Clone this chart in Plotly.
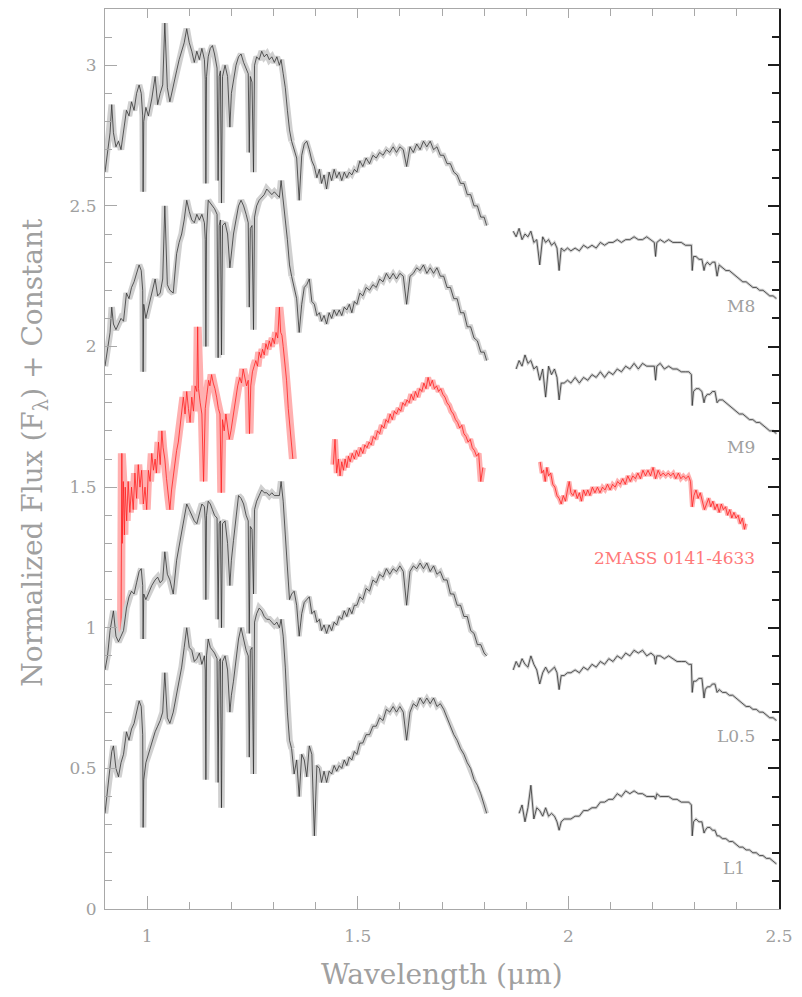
import plotly.graph_objects as go

# ---------------------------------------------------------------------------
# Wavelength grids (micron) shared by the four comparison spectra
# ---------------------------------------------------------------------------
JH_WAVE = [
    0.900, 0.906, 0.912, 0.916, 0.920, 0.926, 0.932, 0.938, 0.944, 0.951,
    0.957, 0.963, 0.969, 0.975, 0.981, 0.986, 0.9895, 0.9905, 0.992, 0.997,
    1.003, 1.011, 1.019, 1.025, 1.031, 1.037, 1.042, 1.048, 1.054, 1.062,
    1.070, 1.076, 1.082, 1.088, 1.094, 1.100, 1.106, 1.112, 1.118, 1.124,
    1.130, 1.136, 1.138, 1.1395, 1.141, 1.145, 1.150, 1.155, 1.160, 1.166,
    1.1685, 1.171, 1.174, 1.1765, 1.179, 1.185, 1.191, 1.1965, 1.200, 1.205,
    1.211, 1.217, 1.223, 1.229, 1.235, 1.240, 1.2425, 1.245, 1.249, 1.2525,
    1.255, 1.260, 1.266, 1.272, 1.278, 1.284, 1.290, 1.296, 1.302, 1.308,
    1.314, 1.318, 1.323, 1.328, 1.333, 1.338, 1.343, 1.349, 1.355, 1.361,
    1.367, 1.373, 1.379, 1.385, 1.391, 1.397, 1.403, 1.409, 1.414, 1.420,
    1.426, 1.432, 1.438, 1.444, 1.450, 1.456, 1.462, 1.468, 1.474, 1.480,
    1.486, 1.492, 1.498, 1.505, 1.512, 1.520, 1.528, 1.536, 1.544, 1.552,
    1.560, 1.568, 1.576, 1.584, 1.592, 1.600, 1.608, 1.616, 1.624, 1.632,
    1.640, 1.648, 1.656, 1.664, 1.672, 1.680, 1.688, 1.696, 1.704, 1.712,
    1.720, 1.728, 1.736, 1.744, 1.752, 1.760, 1.768, 1.776, 1.784, 1.792,
    1.800, 1.806,
]

K_WAVE = [
    1.869, 1.876, 1.883, 1.890, 1.897, 1.904, 1.911, 1.918, 1.925, 1.932,
    1.939, 1.946, 1.953, 1.960, 1.967, 1.973, 1.978, 1.983, 1.990, 1.998,
    2.006, 2.016, 2.026, 2.036, 2.046, 2.056, 2.066, 2.076, 2.086, 2.096,
    2.106, 2.116, 2.126, 2.136, 2.146, 2.156, 2.166, 2.176, 2.186, 2.196,
    2.204, 2.207, 2.210, 2.218, 2.228, 2.238, 2.248, 2.258, 2.268, 2.278,
    2.286, 2.292, 2.294, 2.297, 2.303, 2.310, 2.317, 2.322, 2.325, 2.330,
    2.336, 2.342, 2.348, 2.353, 2.358, 2.366, 2.374, 2.382, 2.390, 2.398,
    2.406, 2.414, 2.422, 2.430, 2.438, 2.446, 2.454, 2.462, 2.470, 2.478,
    2.486, 2.494,
]

# ---------------------------------------------------------------------------
# Normalized flux + offset for the comparison dwarfs
# ---------------------------------------------------------------------------
M8_JH = [
    2.62, 2.70, 2.76, 2.86, 2.76, 2.71, 2.73, 2.70, 2.77, 2.84,
    2.82, 2.87, 2.84, 2.90, 2.93, 2.90, 2.82, 2.55, 2.80, 2.85,
    2.82, 2.88, 2.96, 2.86, 2.90, 2.93, 3.15, 2.92, 2.87, 2.92,
    2.98, 3.02, 3.05, 3.08, 3.13, 3.08, 3.05, 3.01, 3.05, 3.02,
    3.06, 3.02, 2.95, 2.58, 2.96, 3.03, 3.06, 3.07, 3.04, 2.99,
    2.59, 2.96, 2.98, 2.51, 2.96, 3.00, 2.96, 2.78, 2.90, 2.95,
    3.00, 3.03, 3.04, 3.01, 2.99, 2.97, 2.69, 2.96, 2.94, 2.62,
    3.00, 3.03, 3.02, 3.05, 3.03, 3.04, 3.02, 3.03, 3.01, 3.03,
    3.00, 3.02, 2.97, 2.92, 2.84, 2.77, 2.73, 2.70, 2.67, 2.52,
    2.68, 2.72, 2.73, 2.70, 2.66, 2.64, 2.60, 2.63, 2.58, 2.61,
    2.56, 2.62, 2.59, 2.63, 2.60, 2.62, 2.59, 2.62, 2.60, 2.62,
    2.61, 2.63, 2.62, 2.66, 2.64, 2.67, 2.65, 2.68, 2.67, 2.69,
    2.68, 2.70, 2.69, 2.71, 2.69, 2.71, 2.70, 2.64, 2.71, 2.69,
    2.72, 2.70, 2.73, 2.71, 2.73, 2.70, 2.71, 2.68, 2.68, 2.65,
    2.65, 2.62, 2.61, 2.58, 2.58, 2.54, 2.54, 2.50, 2.50, 2.46,
    2.46, 2.43,
]
M8_K = [
    2.41, 2.39, 2.42, 2.38, 2.40, 2.39, 2.41, 2.37, 2.38, 2.29,
    2.39, 2.37, 2.38, 2.36, 2.37, 2.35, 2.27, 2.35, 2.34, 2.35,
    2.34, 2.35, 2.34, 2.36, 2.35, 2.36, 2.35, 2.37, 2.36, 2.37,
    2.37, 2.38, 2.37, 2.38, 2.38, 2.39, 2.38, 2.38, 2.39, 2.38,
    2.37, 2.32, 2.37, 2.38, 2.37, 2.38, 2.37, 2.37, 2.37, 2.36,
    2.36, 2.36, 2.27, 2.32, 2.32, 2.31, 2.31, 2.27, 2.29, 2.30,
    2.29, 2.30, 2.30, 2.25, 2.29, 2.28, 2.27, 2.27, 2.26, 2.25,
    2.24, 2.23, 2.23, 2.22, 2.21, 2.21, 2.20, 2.20, 2.19, 2.18,
    2.18, 2.17,
]

M9_JH = [
    1.93, 1.99, 2.05, 2.14, 2.08, 2.06, 2.08, 2.10, 2.09, 2.19,
    2.17, 2.21, 2.23, 2.26, 2.29, 2.27, 2.20, 1.91, 2.15, 2.10,
    2.14, 2.19, 2.24, 2.18, 2.19, 2.24, 2.50, 2.22, 2.20, 2.19,
    2.33, 2.37, 2.40, 2.45, 2.52, 2.48, 2.45, 2.44, 2.47, 2.45,
    2.47, 2.44, 2.38, 2.00, 2.40, 2.52, 2.51, 2.50, 2.49, 2.47,
    1.96, 2.43, 2.45, 1.97, 2.43, 2.44, 2.40, 2.28, 2.34, 2.40,
    2.45, 2.50, 2.52, 2.50, 2.47, 2.44, 2.14, 2.42, 2.43, 2.06,
    2.46, 2.50, 2.52, 2.53, 2.54, 2.56, 2.55, 2.54, 2.55, 2.54,
    2.53, 2.59, 2.52, 2.46, 2.38, 2.29, 2.25, 2.21, 2.17, 2.05,
    2.15, 2.21, 2.22, 2.24, 2.16, 2.15, 2.11, 2.12, 2.09, 2.11,
    2.08, 2.12, 2.10, 2.13, 2.11, 2.13, 2.11, 2.14, 2.13, 2.15,
    2.12, 2.16, 2.15, 2.19, 2.18, 2.21, 2.20, 2.22, 2.21, 2.24,
    2.23, 2.26, 2.24, 2.26, 2.24, 2.26, 2.25, 2.15, 2.25, 2.26,
    2.28, 2.27, 2.29, 2.26, 2.28, 2.26, 2.28, 2.25, 2.25, 2.21,
    2.21, 2.17, 2.17, 2.12, 2.12, 2.07, 2.07, 2.03, 2.02, 1.98,
    1.98, 1.95,
]
M9_K = [
    None, 1.92, 1.95, 1.93, 1.97, 1.94, 1.95, 1.92, 1.93, 1.88,
    1.92, 1.82, 1.93, 1.90, 1.92, 1.89, 1.81, 1.87, 1.87, 1.88,
    1.87, 1.89, 1.87, 1.89, 1.88, 1.90, 1.89, 1.91, 1.89, 1.91,
    1.90, 1.92, 1.91, 1.93, 1.92, 1.94, 1.92, 1.94, 1.93, 1.93,
    1.93, 1.88, 1.93, 1.94, 1.92, 1.93, 1.92, 1.92, 1.91, 1.91,
    1.91, 1.90, 1.79, 1.84, 1.85, 1.85, 1.84, 1.80, 1.82, 1.83,
    1.83, 1.84, 1.84, 1.80, 1.81, 1.81, 1.80, 1.79, 1.78, 1.77,
    1.76, 1.76, 1.75, 1.74, 1.74, 1.73, 1.73, 1.72, 1.71, 1.70,
    1.70, 1.69,
]

L05_JH = [
    0.85, 0.90, 0.99, 1.02, 1.06, 0.97, 0.95, 0.97, 0.99, 1.07,
    1.11, 1.13, 1.12, 1.16, 1.20, 1.21, 1.15, 0.96, 1.12, 1.10,
    1.12, 1.15, 1.17, 1.18, 1.16, 1.17, 1.27, 1.19, 1.17, 1.12,
    1.24, 1.29, 1.34, 1.38, 1.44, 1.42, 1.40, 1.38, 1.37, 1.41,
    1.44, 1.43, 1.38, 1.10, 1.40, 1.45, 1.44, 1.42, 1.40, 1.39,
    1.03, 1.37, 1.38, 1.00, 1.37, 1.38, 1.30, 1.15, 1.24, 1.31,
    1.40, 1.47, 1.46, 1.44, 1.40, 1.38, 0.98, 1.36, 1.35, 1.12,
    1.42, 1.45, 1.47, 1.49, 1.48, 1.48, 1.47, 1.48, 1.47, 1.47,
    1.47, 1.52, 1.45, 1.33, 1.20, 1.10, 1.12, 1.13, 1.08, 0.97,
    1.05, 1.09, 1.10, 1.11, 1.05, 1.06, 1.02, 1.03, 0.99, 1.01,
    0.98, 1.01, 0.99, 1.02, 1.01, 1.04, 1.03, 1.06, 1.04, 1.07,
    1.05, 1.08, 1.08, 1.11, 1.10, 1.14, 1.13, 1.17, 1.16, 1.19,
    1.18, 1.21, 1.19, 1.21, 1.20, 1.22, 1.20, 1.08, 1.20, 1.22,
    1.21, 1.23, 1.21, 1.23, 1.20, 1.22, 1.19, 1.20, 1.17, 1.17,
    1.12, 1.12, 1.08, 1.08, 1.04, 1.04, 0.99, 0.98, 0.94, 0.94,
    0.91, 0.90,
]
L05_K = [
    0.85, 0.88, 0.86, 0.89, 0.87, 0.86, 0.90, 0.87, 0.85, 0.80,
    0.84, 0.86, 0.84, 0.85, 0.86, 0.84, 0.78, 0.83, 0.83, 0.84,
    0.84, 0.85, 0.84, 0.86, 0.85, 0.87, 0.86, 0.88, 0.87, 0.89,
    0.88, 0.90, 0.89, 0.91, 0.90, 0.92, 0.91, 0.92, 0.90, 0.91,
    0.90, 0.87, 0.90, 0.90, 0.89, 0.90, 0.89, 0.88, 0.88, 0.88,
    0.87, 0.87, 0.77, 0.81, 0.81, 0.82, 0.82, 0.75, 0.78, 0.79,
    0.79, 0.80, 0.80, 0.77, 0.78, 0.77, 0.77, 0.76, 0.76, 0.75,
    0.74, 0.73, 0.72, 0.72, 0.71, 0.71, 0.70, 0.70, 0.69, 0.68,
    0.68, 0.67,
]

L1_JH = [
    0.34, 0.42, 0.50, 0.56, 0.58, 0.50, 0.47, 0.52, 0.55, 0.63,
    0.60, 0.64, 0.66, 0.70, 0.74, 0.72, 0.62, 0.29, 0.46, 0.52,
    0.55, 0.59, 0.63, 0.65, 0.67, 0.70, 0.84, 0.68, 0.66, 0.70,
    0.77, 0.81, 0.86, 0.93, 1.00, 0.93, 0.92, 0.88, 0.89, 0.91,
    0.87, 0.90, 0.85, 0.46, 0.90, 0.96, 0.93, 0.92, 0.91, 0.89,
    0.45, 0.88, 0.89, 0.36, 0.88, 0.90, 0.85, 0.70, 0.76, 0.81,
    0.88, 0.96, 1.00, 0.96, 0.92, 0.90, 0.54, 0.92, 0.93, 0.48,
    1.02, 1.05, 1.07, 1.06, 1.04, 1.03, 1.03, 1.02, 1.01, 1.02,
    1.00, 1.03, 0.97, 0.86, 0.70, 0.60, 0.57, 0.48, 0.53, 0.40,
    0.55, 0.53, 0.47, 0.58, 0.55, 0.26, 0.51, 0.50, 0.45, 0.49,
    0.45, 0.49, 0.48, 0.51, 0.49, 0.51, 0.50, 0.53, 0.51, 0.54,
    0.53, 0.56, 0.55, 0.59, 0.59, 0.62, 0.62, 0.65, 0.65, 0.68,
    0.67, 0.71, 0.70, 0.72, 0.70, 0.72, 0.70, 0.60, 0.70, 0.73,
    0.72, 0.75, 0.73, 0.75, 0.73, 0.75, 0.72, 0.73, 0.71, 0.68,
    0.65, 0.62, 0.60, 0.57, 0.55, 0.52, 0.50, 0.46, 0.44, 0.41,
    0.37, 0.34,
]
L1_K = [
    None, None, 0.34, 0.37, 0.31, 0.36, 0.44, 0.32, 0.36, 0.35,
    0.33, 0.36, 0.33, 0.34, 0.33, 0.31, 0.28, 0.31, 0.32, 0.32,
    0.32, 0.33, 0.33, 0.35, 0.35, 0.36, 0.36, 0.38, 0.38, 0.39,
    0.39, 0.41, 0.40, 0.42, 0.41, 0.42, 0.41, 0.41, 0.40, 0.40,
    0.40, 0.39, 0.41, 0.40, 0.40, 0.40, 0.39, 0.39, 0.38, 0.38,
    0.38, 0.37, 0.26, 0.31, 0.32, 0.31, 0.31, 0.27, 0.28, 0.29,
    0.29, 0.28, 0.28, 0.26, 0.26, 0.25, 0.25, 0.24, 0.24, 0.23,
    0.22, 0.22, 0.21, 0.21, 0.20, 0.20, 0.19, 0.19, 0.18, 0.18,
    0.17, 0.16,
]

# ---------------------------------------------------------------------------
# 2MASS 0141-4633 (three atmospheric windows)
# ---------------------------------------------------------------------------
RED_J_WAVE = [
    0.938, 0.940, 0.941, 0.9435, 0.946, 0.948, 0.9515, 0.955, 0.959, 0.963,
    0.967, 0.971, 0.975, 0.979, 0.983, 0.987, 0.991, 0.995, 0.999, 1.003,
    1.007, 1.011, 1.015, 1.019, 1.022, 1.027, 1.031, 1.035, 1.038, 1.042,
    1.046, 1.050, 1.054, 1.058, 1.062, 1.066, 1.070, 1.074, 1.078, 1.082,
    1.086, 1.090, 1.094, 1.098, 1.102, 1.106, 1.110, 1.114, 1.118, 1.120,
    1.122, 1.126, 1.130, 1.134, 1.138, 1.142, 1.146, 1.149, 1.153, 1.157,
    1.161, 1.165, 1.169, 1.173, 1.176, 1.179, 1.183, 1.187, 1.191, 1.195,
    1.199, 1.203, 1.207, 1.211, 1.215, 1.220, 1.224, 1.228, 1.232, 1.236,
    1.240, 1.243, 1.246, 1.250, 1.254, 1.258, 1.262, 1.266, 1.270, 1.274,
    1.278, 1.282, 1.286, 1.290, 1.294, 1.298, 1.302, 1.306, 1.310, 1.314,
    1.317, 1.320, 1.323, 1.327, 1.331, 1.335, 1.339, 1.343, 1.346,
]
RED_J_FLUX = [
    0.98, 1.62, 1.30, 1.52, 1.33, 1.50, 1.38, 1.52, 1.41, 1.50,
    1.42, 1.55, 1.46, 1.58, 1.50, 1.56, 1.44, 1.50, 1.42, 1.56,
    1.52, 1.62, 1.56, 1.60, 1.55, 1.66, 1.58, 1.70, 1.64, 1.60,
    1.53, 1.47, 1.42, 1.49, 1.54, 1.58, 1.63, 1.66, 1.71, 1.76,
    1.82, 1.76, 1.84, 1.78, 1.73, 1.82, 1.77, 1.86, 1.84, 2.07,
    1.85, 1.80, 1.76, 1.52, 1.78, 1.83, 1.88, 1.86, 1.90, 1.87,
    1.85, 1.82, 1.78, 1.76, 1.48, 1.74, 1.70, 1.76, 1.72, 1.67,
    1.70, 1.74, 1.79, 1.82, 1.86, 1.89, 1.87, 1.92, 1.89, 1.86,
    1.88, 1.69, 1.86, 1.91, 1.93, 1.95, 1.93, 1.98, 1.96, 1.99,
    1.97, 2.01, 1.99, 2.02, 2.00, 2.03, 2.01, 2.05, 2.03, 2.14,
    2.05, 2.04, 2.00, 1.94, 1.88, 1.78, 1.71, 1.65, 1.60,
]

RED_H_WAVE = [
    1.442, 1.446, 1.450, 1.454, 1.458, 1.462, 1.466, 1.470, 1.474, 1.478,
    1.482, 1.487, 1.492, 1.497, 1.502, 1.507, 1.512, 1.517, 1.522, 1.527,
    1.532, 1.537, 1.542, 1.547, 1.552, 1.557, 1.562, 1.567, 1.572, 1.577,
    1.582, 1.587, 1.592, 1.597, 1.602, 1.607, 1.612, 1.617, 1.622, 1.627,
    1.632, 1.637, 1.642, 1.647, 1.652, 1.657, 1.662, 1.667, 1.672, 1.677,
    1.682, 1.687, 1.692, 1.697, 1.702, 1.707, 1.712, 1.717, 1.722, 1.727,
    1.732, 1.737, 1.742, 1.747, 1.752, 1.757, 1.762, 1.767, 1.772, 1.777,
    1.782, 1.787, 1.792, 1.797,
]
RED_H_FLUX = [
    1.58, 1.67, 1.55, 1.60, 1.54, 1.59, 1.56, 1.60, 1.57, 1.61,
    1.59, 1.62, 1.60, 1.63, 1.61, 1.64, 1.62, 1.65, 1.64, 1.66,
    1.65, 1.68, 1.67, 1.70, 1.69, 1.72, 1.71, 1.74, 1.73, 1.76,
    1.74, 1.77, 1.76, 1.78, 1.77, 1.80, 1.79, 1.81, 1.80, 1.83,
    1.81, 1.84, 1.82, 1.85, 1.84, 1.87, 1.85, 1.89, 1.86, 1.88,
    1.85, 1.86, 1.84, 1.85, 1.83, 1.82, 1.80, 1.79, 1.77, 1.76,
    1.74, 1.73, 1.71, 1.72, 1.69, 1.68, 1.66, 1.67, 1.64, 1.63,
    1.61, 1.62, 1.52, 1.57,
]

RED_K_WAVE = [
    1.933, 1.937, 1.941, 1.945, 1.949, 1.953, 1.958, 1.963, 1.968, 1.973,
    1.978, 1.983, 1.988, 1.993, 1.998, 2.002, 2.006, 2.011, 2.016, 2.021,
    2.026, 2.031, 2.036, 2.041, 2.046, 2.051, 2.057, 2.063, 2.069, 2.075,
    2.081, 2.087, 2.093, 2.099, 2.105, 2.111, 2.117, 2.123, 2.129, 2.135,
    2.141, 2.147, 2.153, 2.159, 2.165, 2.171, 2.177, 2.183, 2.189, 2.195,
    2.201, 2.207, 2.213, 2.219, 2.225, 2.231, 2.237, 2.243, 2.249, 2.255,
    2.261, 2.267, 2.273, 2.279, 2.285, 2.290, 2.294, 2.298, 2.303, 2.308,
    2.313, 2.318, 2.323, 2.328, 2.333, 2.338, 2.343, 2.348, 2.353, 2.358,
    2.363, 2.368, 2.373, 2.378, 2.383, 2.388, 2.393, 2.398, 2.403, 2.408,
    2.413, 2.418, 2.421,
]
RED_K_FLUX = [
    1.59, 1.55, 1.56, 1.52, 1.57, 1.54, 1.55, 1.51, 1.50, 1.47,
    1.46, 1.44, 1.47, 1.45, 1.49, 1.52, 1.48, 1.47, 1.49, 1.46,
    1.48, 1.45, 1.49, 1.47, 1.49, 1.47, 1.50, 1.48, 1.50, 1.48,
    1.50, 1.49, 1.51, 1.49, 1.51, 1.50, 1.52, 1.51, 1.53, 1.51,
    1.54, 1.52, 1.54, 1.53, 1.55, 1.53, 1.56, 1.54, 1.56, 1.54,
    1.57, 1.53, 1.56, 1.54, 1.55, 1.54, 1.55, 1.54, 1.55, 1.53,
    1.55, 1.53, 1.54, 1.53, 1.54, 1.52, 1.43, 1.47, 1.49, 1.46,
    1.48, 1.45, 1.42, 1.44, 1.46, 1.43, 1.45, 1.42, 1.44, 1.41,
    1.44, 1.42, 1.43, 1.40, 1.42, 1.39, 1.41, 1.39, 1.40, 1.37,
    1.39, 1.35, 1.37,
]

# Spectral type labels
LABELS = ["M8", "M9", "2MASS 0141-4633", "L0.5", "L1"]

# ---------------------------------------------------------------------------
# Styling
# ---------------------------------------------------------------------------
FONT = "DejaVu Serif"
TEXT_GRAY = "#a0a0a0"
AXIS_GRAY = "#a8a8a8"
FRAME_DARK = "#1e1e1e"
CORE_BLACK = "#333333"
HALO_GRAY = "#d0d0d0"
CORE_RED = "#ff2020"
HALO_RED = "#ffb0b0"

# J / H boundary used only to vary the noise-halo width per band
J_SPLIT = 1.343


def check(w, f):
    if len(w) != len(f):
        raise ValueError("wavelength / flux length mismatch")
    return list(w), list(f)


def split_jh(w, f):
    """Split a continuous J+H spectrum into J and H pieces sharing one point."""
    j_idx = [i for i, x in enumerate(w) if x <= J_SPLIT]
    h_idx = [i for i, x in enumerate(w) if x >= J_SPLIT]
    return ([w[i] for i in j_idx], [f[i] for i in j_idx]), \
           ([w[i] for i in h_idx], [f[i] for i in h_idx])


def dwarf(jh_flux, k_flux):
    (jw, jf), (hw, hf) = split_jh(*check(JH_WAVE, jh_flux))
    kw, kf = check(K_WAVE, k_flux)
    return [(jw, jf, 6.5), (hw, hf, 5.0), (kw, kf, 2.8)]


# (segments, core colour, halo colour); each segment: (wave, flux, halo width)
series = [
    (dwarf(M8_JH, M8_K), CORE_BLACK, HALO_GRAY),
    (dwarf(M9_JH, M9_K), CORE_BLACK, HALO_GRAY),
    ([(*check(RED_J_WAVE, RED_J_FLUX), 8.0),
      (*check(RED_H_WAVE, RED_H_FLUX), 6.0),
      (*check(RED_K_WAVE, RED_K_FLUX), 4.5)],
     CORE_RED, HALO_RED),
    (dwarf(L05_JH, L05_K), CORE_BLACK, HALO_GRAY),
    (dwarf(L1_JH, L1_K), CORE_BLACK, HALO_GRAY),
]

fig = go.Figure()
for segments, core, halo in series:
    for w, f, hw in segments:
        fig.add_trace(go.Scatter(x=w, y=f, mode="lines",
                                 line=dict(color=halo, width=hw),
                                 hoverinfo="skip", showlegend=False))
    for w, f, hw in segments:
        fig.add_trace(go.Scatter(x=w, y=f, mode="lines",
                                 line=dict(color=core, width=0.8),
                                 showlegend=False))

# invisible trace carrying the top / right frame axes
fig.add_trace(go.Scatter(x=[None], y=[None], xaxis="x2", yaxis="y2",
                         mode="markers", showlegend=False, hoverinfo="skip"))

# spectral-type labels, right aligned below each spectrum
label_pos = [(2.448, 2.144), (2.448, 1.644), (2.448, 1.247),
             (2.448, 0.615), (2.424, 0.146)]
label_col = [TEXT_GRAY, TEXT_GRAY, "#ff7a7a", TEXT_GRAY, TEXT_GRAY]
for text, (lx, ly), col in zip(LABELS, label_pos, label_col):
    fig.add_annotation(x=lx, y=ly, text=text, showarrow=False,
                       xanchor="right", yanchor="middle",
                       font=dict(family=FONT, size=17, color=col))

# axis titles
fig.add_annotation(x=0.5, y=-0.0733, xref="paper", yref="paper",
                   text="Wavelength (μm)", showarrow=False,
                   xanchor="center", yanchor="middle",
                   font=dict(family=FONT, size=28, color=TEXT_GRAY))
fig.add_annotation(x=-0.104, y=0.508, xref="paper", yref="paper",
                   text="Normalized Flux (F<sub>λ</sub>) + Constant",
                   textangle=-90, showarrow=False,
                   xanchor="center", yanchor="middle",
                   font=dict(family=FONT, size=28, color=TEXT_GRAY))

X_RANGE = [0.9, 2.5]
Y_RANGE = [0.0, 3.2]
X_TICKS = [1, 1.5, 2, 2.5]
Y_TICKS = [0, 0.5, 1, 1.5, 2, 2.5, 3]

fig.update_layout(
    width=802, height=997, autosize=False,
    margin=dict(l=105, r=23, t=9, b=88),
    paper_bgcolor="white", plot_bgcolor="white",
    showlegend=False,
    font=dict(family=FONT, color=TEXT_GRAY, size=16),
    xaxis=dict(
        range=X_RANGE, tickvals=X_TICKS,
        ticktext=["1", "1.5", "2", "2.5"],
        ticks="inside", ticklen=13, tickwidth=1, tickcolor=AXIS_GRAY,
        showline=True, linecolor=AXIS_GRAY, linewidth=1,
        showgrid=False, zeroline=False,
        minor=dict(ticks="inside", ticklen=7, tickwidth=1,
                   tickcolor=AXIS_GRAY, dtick=0.1, tick0=0.9,
                   showgrid=False),
        tickfont=dict(family=FONT, size=17, color=TEXT_GRAY),
        ticklabelstandoff=12,
    ),
    yaxis=dict(
        range=Y_RANGE, tickvals=Y_TICKS,
        ticktext=["0", "0.5", "1", "1.5", "2", "2.5", "3"],
        ticks="inside", ticklen=12, tickwidth=1, tickcolor=AXIS_GRAY,
        showline=True, linecolor=AXIS_GRAY, linewidth=1,
        showgrid=False, zeroline=False,
        minor=dict(ticks="inside", ticklen=7, tickwidth=1,
                   tickcolor=AXIS_GRAY, dtick=0.1, tick0=0,
                   showgrid=False),
        tickfont=dict(family=FONT, size=17, color=TEXT_GRAY),
        ticklabelstandoff=4,
    ),
    xaxis2=dict(
        overlaying="x", side="top", anchor="y", range=X_RANGE,
        tickvals=X_TICKS, showticklabels=False,
        ticks="inside", ticklen=9, tickwidth=1, tickcolor=AXIS_GRAY,
        showline=True, linecolor=AXIS_GRAY, linewidth=1,
        showgrid=False, zeroline=False,
        minor=dict(ticks="inside", ticklen=7, tickwidth=1,
                   tickcolor=AXIS_GRAY, dtick=0.1, tick0=0.9,
                   showgrid=False),
    ),
    yaxis2=dict(
        overlaying="y", side="right", anchor="x", range=Y_RANGE,
        tickvals=Y_TICKS, showticklabels=False,
        ticks="inside", ticklen=11, tickwidth=1.5, tickcolor=FRAME_DARK,
        showline=True, linecolor=FRAME_DARK, linewidth=2,
        showgrid=False, zeroline=False,
        minor=dict(ticks="inside", ticklen=7, tickwidth=1.5,
                   tickcolor=FRAME_DARK, dtick=0.1, tick0=0,
                   showgrid=False),
    ),
)

fig.write_html("out.html")
